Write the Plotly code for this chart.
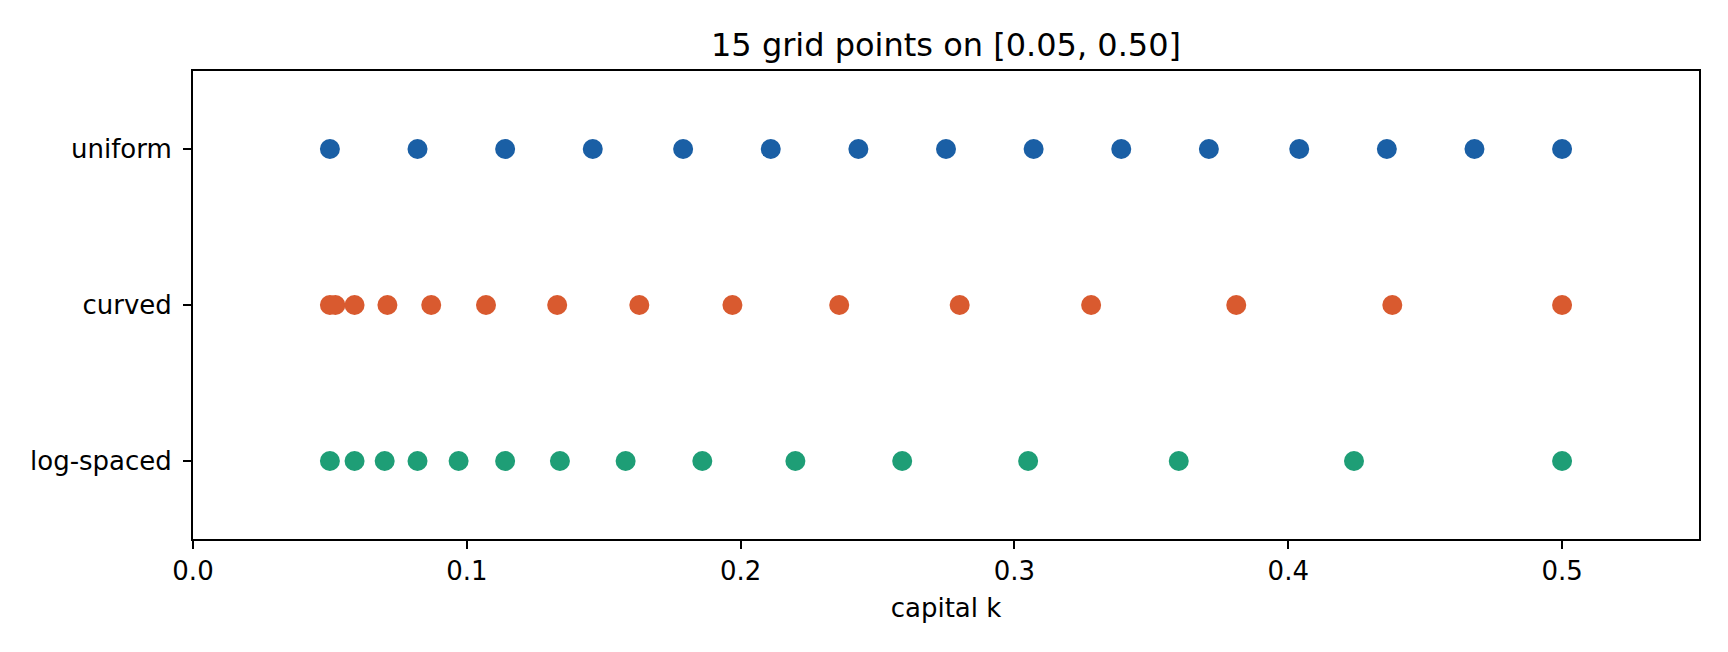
import plotly.graph_objs as go

# grid values (capital k)
grid_names = ['uniform', 'curved', 'log-spaced']
uniform_k = [0.05, 0.082, 0.114, 0.146, 0.179, 0.211, 0.243, 0.275,
             0.307, 0.339, 0.371, 0.404, 0.436, 0.468, 0.50]
curved_k = [0.05, 0.052, 0.059, 0.071, 0.087, 0.107, 0.133, 0.163,
            0.197, 0.236, 0.280, 0.328, 0.381, 0.438, 0.50]
log_k = [0.05, 0.059, 0.070, 0.082, 0.097, 0.114, 0.134, 0.158,
         0.186, 0.220, 0.259, 0.305, 0.360, 0.424, 0.50]
x_ticks = [0.0, 0.1, 0.2, 0.3, 0.4, 0.5]

colors = ['#1a5fa5', '#d95a2f', '#1e9e76']
font = 'DejaVu Sans'

data = []
for name, vals, col in zip(grid_names, [uniform_k, curved_k, log_k], colors):
    data.append(go.Scatter(x=vals, y=[name] * len(vals), mode='markers', name=name,
                           marker=dict(size=20, color=col, line=dict(width=0))))

axis_style = dict(showline=True, linecolor='black', linewidth=2, mirror=True,
                  ticks='outside', ticklen=8, tickwidth=2, tickcolor='black',
                  showgrid=False, zeroline=False,
                  tickfont=dict(family=font, size=26, color='black'))

# the page body has an 8px margin, so the figure is 8px smaller and shifted
layout = go.Layout(
    width=1720, height=644,
    margin=dict(l=185, r=29, t=63, b=113),
    paper_bgcolor='white', plot_bgcolor='white',
    showlegend=False,
    title=dict(text='15 grid points on [0.05, 0.50]', x=0.5, xanchor='center', xref='paper',
               y=1 - 37 / 644, yanchor='middle', yref='container',
               font=dict(family=font, size=32, color='black')),
    xaxis=dict(range=[0, 0.55], tickvals=x_ticks, ticktext=[str(t) for t in x_ticks],
               title=dict(text='capital k', standoff=14,
                          font=dict(family=font, size=26, color='black')),
               **axis_style),
    yaxis=dict(type='category', categoryorder='array', categoryarray=grid_names,
               range=[2.5, -0.5], ticklabelstandoff=6, **axis_style),
)

fig = go.Figure(data=data, layout=layout)
fig.write_html('out.html')
